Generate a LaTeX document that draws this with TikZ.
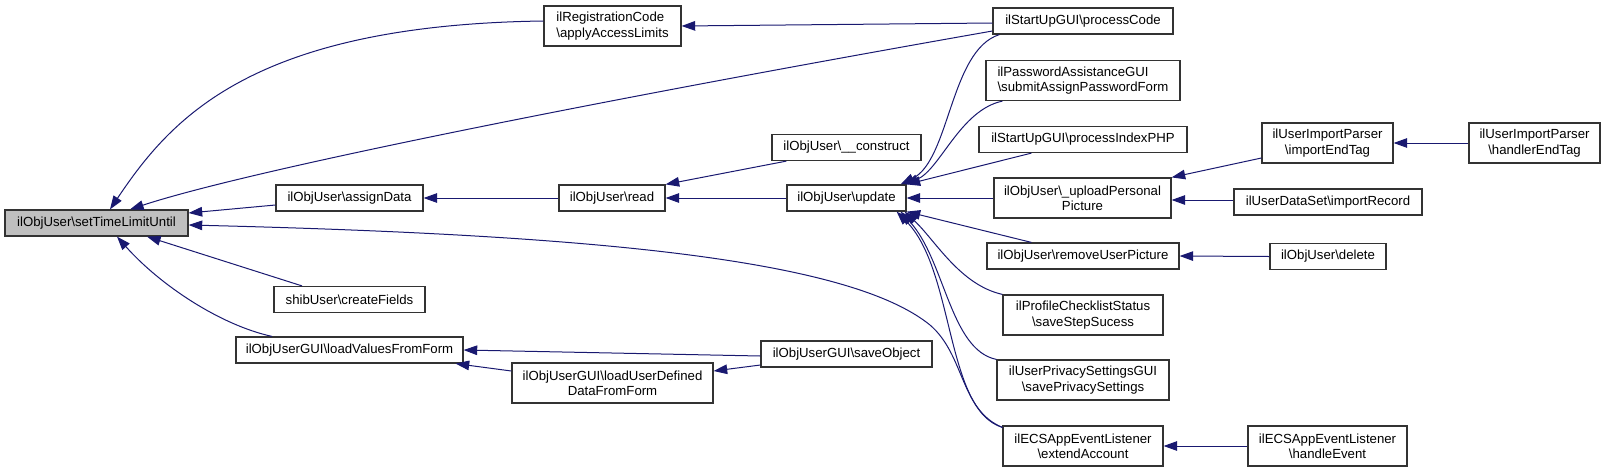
\documentclass[tikz,border=0pt]{standalone}
\usepackage{fontspec}
\setmainfont{Liberation Sans}
\usetikzlibrary{arrows.meta}
\definecolor{dxblue}{HTML}{191970}
\begin{document}
\begin{tikzpicture}[x=0.5pt,y=-0.5pt,
    fn/.style={draw=black!80, line width=0.6pt, fill=white, inner sep=0pt, minimum height=13pt, font=\fontsize{6.6}{7.7}\selectfont, align=center},
    fntwo/.style={fn, minimum height=20pt},
    edge/.style={<-, draw=dxblue, line width=0.5pt},
    >={Triangle[length=6.8pt,width=4.8pt]}]
    \useasboundingbox (0,0) rectangle (1605,472);
    \node[fn, fill=gray!50, minimum width=91.5pt] (set) at (96.5,223) {ilObjUser\textbackslash setTimeLimitUntil};
    \node[fntwo, minimum width=68.5pt, align=left] (aal) at (612.5,26) {ilRegistrationCode\\\textbackslash applyAccessLimits};
    \node[fn, minimum width=73.5pt] (ad) at (349.5,198) {ilObjUser\textbackslash assignData};
    \node[fn, minimum width=75.5pt] (cf) at (349.5,299.5) {shibUser\textbackslash createFields};
    \node[fn, minimum width=113.5pt] (lv) at (349.5,350) {ilObjUserGUI\textbackslash loadValuesFromForm};
    \node[fn, minimum width=53pt] (rd) at (612,198) {ilObjUser\textbackslash read};
    \node[fntwo, minimum width=100.5pt] (lud) at (612.5,383) {ilObjUserGUI\textbackslash loadUserDefined\\DataFromForm};
    \node[fn, minimum width=74.5pt] (con) at (846.5,147.5) {ilObjUser\textbackslash \_\_construct};
    \node[fn, minimum width=59.5pt] (up) at (846.5,198) {ilObjUser\textbackslash update};
    \node[fn, minimum width=85.5pt] (so) at (846.5,354) {ilObjUserGUI\textbackslash saveObject};
    \node[fn, minimum width=90pt] (pc) at (1083,21) {ilStartUpGUI\textbackslash processCode};
    \node[fntwo, minimum width=97pt, align=left] (pa) at (1083,80.5) {ilPasswordAssistanceGUI\\\textbackslash submitAssignPasswordForm};
    \node[fn, minimum width=104pt] (pip) at (1083,139.5) {ilStartUpGUI\textbackslash processIndexPHP};
    \node[fntwo, minimum width=88.5pt] (upp) at (1082.5,198) {ilObjUser\textbackslash \_uploadPersonal\\Picture};
    \node[fn, minimum width=96pt] (rup) at (1083,256) {ilObjUser\textbackslash removeUserPicture};
    \node[fntwo, minimum width=80pt] (pcs) at (1083,315) {ilProfileChecklistStatus\\\textbackslash saveStepSucess};
    \node[fntwo, minimum width=86pt] (ups) at (1083,380) {ilUserPrivacySettingsGUI\\\textbackslash savePrivacySettings};
    \node[fntwo, minimum width=80pt] (ea) at (1083,446) {ilECSAppEventListener\\\textbackslash extendAccount};
    \node[fntwo, minimum width=65.5pt] (iet) at (1327.5,143) {ilUserImportParser\\\textbackslash importEndTag};
    \node[fn, minimum width=94pt] (ir) at (1328,202) {ilUserDataSet\textbackslash importRecord};
    \node[fn, minimum width=58pt] (del) at (1328,256.5) {ilObjUser\textbackslash delete};
    \node[fntwo, minimum width=79.5pt] (hev) at (1327.5,446) {ilECSAppEventListener\\\textbackslash handleEvent};
    \node[fntwo, minimum width=65.5pt] (het) at (1534.5,143) {ilUserImportParser\\\textbackslash handlerEndTag};
    \draw[edge] ([xshift=6.75pt]set.north) .. controls (170,120) and (250,25) .. ([yshift=2.5pt]aal.west);
    \draw[edge] ([xshift=16.75pt]set.north) .. controls (250,170) and (600,100) .. ([yshift=-5pt]pc.west);
    \draw[edge] ([yshift=5pt]set.east) -- ([yshift=-3.5pt]ad.west);
    \draw[edge] ([yshift=-1pt]set.east) .. controls (600,235) and (850,260) .. (930,325) .. controls (965,355) and (960,410) .. ([yshift=-1pt]ea.north west);
    \draw[edge] ([xshift=25.25pt]set.south) -- ([xshift=-23.75pt]cf.north);
    \draw[edge] ([xshift=10.25pt]set.south) .. controls (160,285) and (220,325) .. ([xshift=-38.75pt]lv.north);
    \draw[edge] (ad.east) -- (rd.west);
    \draw[edge] (aal.east) -- ([yshift=-1pt]pc.west);
    \draw[edge] (rd.north east) -- ([xshift=7.5pt]con.south west);
    \draw[edge] (rd.east) -- (up.west);
    \draw[edge] ([xshift=-3pt]up.north east) .. controls (950,160) and (950,50) .. ([xshift=3.5pt]pc.south west);
    \draw[edge] ([xshift=-1pt]up.north east) .. controls (940,170) and (960,110) .. ([xshift=8.5pt]pa.south west);
    \draw[edge] (up.north east) -- ([xshift=26.5pt]pip.south west);
    \draw[edge] (up.east) -- (upp.west);
    \draw[edge] (up.south east) -- ([xshift=22.5pt]rup.north west);
    \draw[edge] ([xshift=-1pt]up.south east) .. controls (935,240) and (960,285) .. (pcs.north west);
    \draw[edge] ([xshift=-3pt]up.south east) .. controls (945,260) and (950,350) .. (ups.north west);
    \draw[edge] ([xshift=-5pt]up.south east) .. controls (955,270) and (945,410) .. ([yshift=-1pt]ea.north west);
    \draw[edge] (upp.north east) -- ([yshift=-7.5pt]iet.west);
    \draw[edge] ([yshift=-1pt]upp.east) -- ([yshift=1pt]ir.west);
    \draw[edge] (iet.east) -- (het.west);
    \draw[edge] (rup.east) -- (del.west);
    \draw[edge] (ea.east) -- (hev.west);
    \draw[edge] (lv.east) -- ([yshift=-1pt]so.west);
    \draw[edge] ([xshift=-4pt]lv.south east) -- ([yshift=6pt]lud.west);
    \draw[edge] ([yshift=6pt]lud.east) -- ([yshift=-5.5pt]so.west);
\end{tikzpicture}
\end{document}
